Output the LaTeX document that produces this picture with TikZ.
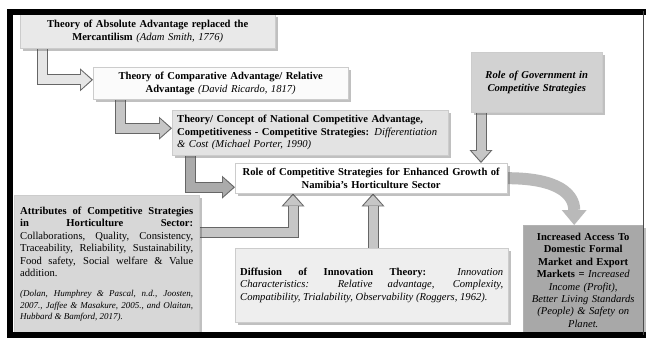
\documentclass[tikz,border=0pt]{standalone}
\usepackage{fontspec}
\setmainfont{Liberation Serif}
\usetikzlibrary{positioning, calc, arrows.meta, shadows}
\pgfdeclarelayer{back}
\pgfdeclarelayer{arrowlayer}
\pgfsetlayers{back,arrowlayer,main}
\definecolor{absfill}{HTML}{E9E9E9}
\definecolor{compfill}{HTML}{FBFBFB}
\definecolor{porterfill}{HTML}{E3E3E3}
\definecolor{govfill}{HTML}{D2D2D2}
\definecolor{attrfill}{HTML}{D7D7D7}
\definecolor{difffill}{HTML}{EEEEEE}
\definecolor{incfill}{HTML}{A8A8A8}
\definecolor{arrowlight}{HTML}{E6E6E6}
\definecolor{arrowmid}{HTML}{C6C6C6}
\definecolor{arrowdark}{HTML}{ABABAB}
\definecolor{arrowedge}{HTML}{666666}
\definecolor{curvegray}{HTML}{B9B9B9}

\begin{document}
\begin{tikzpicture}[x=1pt, y=-1pt, font=\fontsize{10.6}{12.4}\selectfont]
% Define block styles
\tikzstyle{block} = [rectangle, draw=gray!40, anchor=north west, inner sep=5pt,
    drop shadow={shadow xshift=2.5pt, shadow yshift=-2.5pt, opacity=0.35, fill=black!70}]
\tikzstyle{curvedarrow} = [draw=curvegray, line width=12pt,
    -{Triangle[length=15pt, width=25pt, line width=0pt]}]
\tikzset{blockline/.style={draw=#1, line width=9pt, line join=miter, shorten >=1.7pt,
    -{Triangle[length=10.5pt, width=19pt, line width=0pt]},
    preaction={draw=arrowedge, line width=11pt, shorten >=0pt,
    -{Triangle[length=13pt, width=23pt, line width=0pt]}}},
  blockline/.default=arrowmid}
    \useasboundingbox (0,0) rectangle (646,338);
    \begin{pgfonlayer}{back}
    \fill[white] (0,0) rectangle (646,338);
    \end{pgfonlayer}
    % Place nodes
    \node [block, fill=absfill, minimum width=255pt, minimum height=34pt, text width=245pt, align=center] (absolute) at (20,14)
        {\textbf{Theory of Absolute Advantage replaced the\\ Mercantilism} \textit{(Adam Smith, 1776)}};
    \node [block, fill=compfill, minimum width=255pt, minimum height=28pt, text width=245pt, align=center] (comparative) at (93,67)
        {\textbf{Theory of Comparative Advantage/ Relative\\ Advantage} \textit{(David Ricardo, 1817)}};
    \node [block, fill=porterfill, minimum width=276pt, minimum height=45pt, text width=266pt, align=left] (porter) at (172,110)
        {\textbf{Theory/ Concept of National Competitive Advantage,\\ Competitiveness - Competitive Strategies:} \textit{Differentiation\\ \& Cost (Michael Porter, 1990)}};
    \node [block, fill=white, minimum width=272pt, minimum height=30pt, text width=262pt, align=center] (central) at (235,163)
        {\textbf{Role of Competitive Strategies for Enhanced Growth of\\ Namibia's Horticulture Sector}};
    \node [block, fill=govfill, minimum width=131pt, minimum height=60pt, text width=121pt, align=center] (government) at (471,52)
        {\textbf{\textit{Role of Government in\\ Competitive Strategies}}};
    \node [block, fill=attrfill, minimum width=185pt, minimum height=138pt, text width=173pt, inner xsep=6pt, align=justify] (attributes) at (14,195)
        {\textbf{Attributes of Competitive Strategies\linebreak in Horticulture Sector:}\linebreak Collaborations, Quality, Consistency,\linebreak Traceability, Reliability, Sustainability,\linebreak Food safety, Social welfare \& Value\linebreak addition.\par\vspace{9pt}
        {\fontsize{9}{11.3}\selectfont\itshape (Dolan, Humphrey \& Pascal, n.d., Joosten,\linebreak 2007., Jaffee \& Masakure, 2005., and Olaitan,\linebreak Hubbard \& Bamford, 2017).\par}};
    \node [block, fill=difffill, minimum width=273pt, minimum height=74pt, text width=263pt, align=justify] (diffusion) at (235,248)
        {\textbf{Diffusion of Innovation Theory:} \textit{Innovation\linebreak Characteristics: Relative advantage, Complexity,\linebreak Compatibility, Trialability, Observability (Roggers, 1962).}};
    \node [block, fill=incfill, draw=gray!60, minimum width=120pt, minimum height=110pt, text width=112pt, inner xsep=4pt, align=center] (access) at (523,225)
        {\textbf{Increased Access To\\ Domestic Formal\\ Market and Export\\ Markets =} \textit{Increased\\ Income (Profit),\\ Better Living Standards\\ (People) \& Safety on\\ Planet.}};
    % Connectors
    \coordinate (govfoot) at ($(government.south west)+(10,0)$);
    \coordinate (attrout) at ($(attributes.north east)+(0,37)$);
    \coordinate (attrin) at ($(central.south west)+(58,0)$);
    \coordinate (difftop) at ($(diffusion.north west)+(138,0)$);
    \coordinate (accesstop) at ($(access.north)+(-9,0)$);
    \begin{pgfonlayer}{arrowlayer}
    \path [blockline=arrowlight] ($(absolute.south west)+(22,0)$) |- ($(comparative.west)+(0,-3.5)$);
    \path [blockline=arrowmid] ($(comparative.south west)+(27,0)$) |- ($(porter.west)+(0,-4.5)$);
    \path [blockline=arrowdark] ($(porter.south west)+(18,0)$) |- ($(central.west)+(0,9)$);
    \path [blockline] (govfoot) -- (govfoot |- central.north);
    \path [blockline] (attrout) -| (attrin);
    \path [blockline] (difftop) -- (difftop |- central.south);
    \path [curvedarrow] (central.east) .. controls +(52,0) and +(0,-30) .. (accesstop);
    \end{pgfonlayer}
    % Frame
    \draw [line width=6pt, line join=miter] (646,11.5) -- (10,11.5) -- (10,335) -- (646,335);
    \draw [black!70, line width=1pt] (643,11) -- (643,335);
\end{tikzpicture}
\end{document}
